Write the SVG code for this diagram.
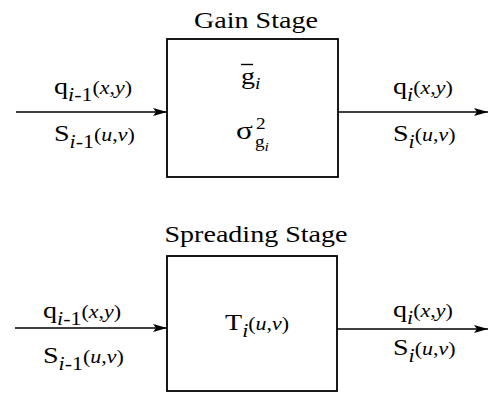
<svg xmlns="http://www.w3.org/2000/svg" width="488" height="395" viewBox="0 0 488 395">
<style>
.t{font-family:"Liberation Serif","Times New Roman",serif;font-size:23px;fill:#000}
.s{font-size:18px}
.i{font-style:italic}
.box{fill:#fff;stroke:#000;stroke-width:1.8}
.ln{stroke:#000;stroke-width:1.6;fill:none}
</style>
<defs>
<marker id="ah" markerWidth="14" markerHeight="8" refX="14" refY="4" orient="auto" markerUnits="userSpaceOnUse">
<path d="M0,0 L14,4 L0,8 L3,4 Z" fill="#000"/>
</marker>
</defs>
<rect width="488" height="395" fill="#fff"/>
<g id="connectors">
<line class="ln" x1="16" y1="112" x2="167" y2="112" marker-end="url(#ah)"/>
<line class="ln" x1="338" y1="112" x2="488" y2="112" marker-end="url(#ah)"/>
<line class="ln" x1="15" y1="328" x2="167" y2="328" marker-end="url(#ah)"/>
<line class="ln" x1="337" y1="329" x2="488" y2="329" marker-end="url(#ah)"/>
</g>
<g id="labels">
<text class="t" transform="translate(54,94) scale(1.22,1)">q<tspan class="s" dy="7"><tspan class="i">i</tspan>-1</tspan><tspan class="s" dy="-7">(<tspan class="i">x</tspan>,<tspan class="i">y</tspan>)</tspan></text>
<text class="t" transform="translate(54,141) scale(1.22,1)">S<tspan class="s" dy="7"><tspan class="i">i</tspan>-1</tspan><tspan class="s" dy="-7">(<tspan class="i">u</tspan>,<tspan class="i">v</tspan>)</tspan></text>
<text class="t" transform="translate(393,94) scale(1.22,1)">q<tspan class="s i" dy="7">i</tspan><tspan class="s" dy="-7">(<tspan class="i">x</tspan>,<tspan class="i">y</tspan>)</tspan></text>
<text class="t" transform="translate(393,141) scale(1.22,1)">S<tspan class="s i" dy="7">i</tspan><tspan class="s" dy="-7">(<tspan class="i">u</tspan>,<tspan class="i">v</tspan>)</tspan></text>
<text class="t" transform="translate(43,318) scale(1.22,1)">q<tspan class="s" dy="7"><tspan class="i">i</tspan>-1</tspan><tspan class="s" dy="-7">(<tspan class="i">x</tspan>,<tspan class="i">y</tspan>)</tspan></text>
<text class="t" transform="translate(43,363) scale(1.22,1)">S<tspan class="s" dy="7"><tspan class="i">i</tspan>-1</tspan><tspan class="s" dy="-7">(<tspan class="i">u</tspan>,<tspan class="i">v</tspan>)</tspan></text>
<text class="t" transform="translate(393,317) scale(1.22,1)">q<tspan class="s i" dy="7">i</tspan><tspan class="s" dy="-7">(<tspan class="i">x</tspan>,<tspan class="i">y</tspan>)</tspan></text>
<text class="t" transform="translate(393,355) scale(1.22,1)">S<tspan class="s i" dy="7">i</tspan><tspan class="s" dy="-7">(<tspan class="i">u</tspan>,<tspan class="i">v</tspan>)</tspan></text>
</g>
<g id="gain-stage">
<text class="t" text-anchor="middle" transform="translate(256,28) scale(1.22,1)">Gain Stage</text>
<rect class="box" x="167" y="39" width="171" height="138"/>
<line x1="241" y1="64.5" x2="253" y2="64.5" stroke="#000" stroke-width="1.4"/>
<text class="t" transform="translate(241,84) scale(1.22,1)">g<tspan class="i" style="font-size:16px" dy="5">i</tspan></text>
<text class="t" style="font-size:26px" transform="translate(236,139) scale(1.2,1)">σ</text>
<text class="t" style="font-size:16px" transform="translate(256,129) scale(1.2,1)">2</text>
<text class="t" style="font-size:16px" transform="translate(255,147) scale(1.2,1)">g<tspan class="i" style="font-size:13px" dy="4">i</tspan></text>
</g>
<g id="spreading-stage">
<text class="t" text-anchor="middle" transform="translate(256,242) scale(1.22,1)">Spreading Stage</text>
<rect class="box" x="167" y="256" width="170" height="135"/>
<text class="t" transform="translate(225,330) scale(1.22,1)">T<tspan class="s i" dy="7">i</tspan><tspan class="s" dy="-7">(<tspan class="i">u</tspan>,<tspan class="i">v</tspan>)</tspan></text>
</g>
</svg>
